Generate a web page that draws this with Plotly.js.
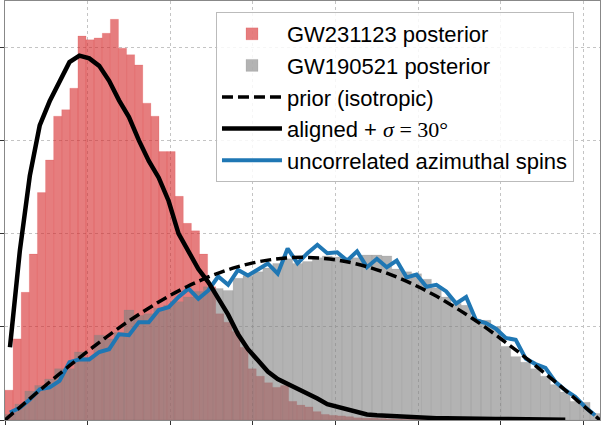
<!DOCTYPE html>
<html>
<head>
<meta charset="utf-8">
<script src="https://cdn.plot.ly/plotly-3.0.1.min.js"></script>
<style>
  html, body { margin: 0; padding: 0; background: #fff; }
  #myDiv { width: 601px; height: 425px; }
</style>
</head>
<body>
<div id="myDiv"></div>
<script>
// densities per degree, in units of 1e-3

// GW231123 posterior histogram (60 bins, 2.452 deg wide)
let redBinWidth = 2.452
let redDensity = [1.6, 4.35, 6.85, 8.9, 12.2, 13.95, 16.3, 16.65, 17.8, 20.6,
  20.4, 20.5, 20.75, 21.5, 19.95, 19.6, 19.05, 17.0, 16.3, 14.4,
  14.4, 12.0, 10.55, 10.15, 8.9, 7.15, 5.7, 5.25, 4.75, 3.9,
  2.75, 2.35, 2.0, 1.75, 1.85, 1.0, 0.8, 0.7, 0.45, 0.3,
  0.25, 0.22, 0.18, 0.12, 0.1, 0.1, 0.08, 0.06, 0.05, 0.04,
  0.03, 0.025, 0.02, 0.015, 0.015, 0.01, 0.01, 0.005, 0.005, 0.005]

// GW190521 posterior histogram (60 bins, 3 deg wide)
let grayBinWidth = 3
let grayDensity = [0.3, 0.85, 1.55, 1.85, 2.2, 2.75, 2.75, 3.65, 3.35, 4.55,
  4.35, 4.7, 5.9, 5.6, 5.7, 6.0, 6.15, 6.35, 6.6, 6.9,
  7.15, 7.05, 6.95, 7.6, 7.75, 7.95, 8.15, 8.4, 8.65, 8.4,
  8.5, 8.7, 8.8, 8.75, 8.7, 8.7, 8.85, 8.85, 8.8, 8.1,
  7.95, 7.85, 7.55, 7.1, 6.6, 6.25, 6.15, 5.4, 5.35, 5.0,
  3.95, 3.4, 3.1, 2.75, 2.35, 1.9, 1.5, 1.0, 0.95, 0.35]

// isotropic prior, every 5 deg
let priorStep = 5
let priorDensity = [0, 0.76, 1.52, 2.26, 2.98, 3.69, 4.36, 5.01, 5.61, 6.17,
  6.69, 7.15, 7.56, 7.91, 8.20, 8.43, 8.59, 8.69, 8.73, 8.69,
  8.59, 8.43, 8.20, 7.91, 7.56, 7.15, 6.69, 6.17, 5.61, 5.01,
  4.36, 3.69, 2.98, 2.26, 1.52, 0.76, 0]

// aligned + sigma = 30 deg (3 deg bins, centres)
let alignedDensity = [3.9, 9.1, 13.1, 15.8, 17.1, 18.15, 19.2, 19.55, 19.4, 19.0,
  18.2, 17.15, 16.25, 15.0, 13.9, 13.0, 11.75, 10.0, 9.0, 8.1,
  7.4, 6.5, 5.65, 4.6, 3.8, 3.2, 2.6, 2.2, 1.95, 1.65,
  1.4, 1.15, 0.85, 0.7, 0.55, 0.4, 0.3, 0.25, 0.22, 0.2,
  0.15, 0.12, 0.1, 0.1, 0.1, 0.08, 0.08, 0.05, 0.05, 0.05,
  0.05, 0.04, 0.03, 0.025, 0.02, 0.015, 0.01]

// uncorrelated azimuthal spins (3 deg bins, centres)
let uncorrDensity = [0.4, 0.65, 1.1, 1.65, 1.75, 2.1, 3.1, 3.25, 3.25, 3.65,
  3.8, 4.6, 4.55, 5.25, 5.25, 5.9, 6.05, 6.6, 7.05, 6.5,
  6.95, 7.7, 7.25, 8.05, 7.75, 8.05, 8.4, 7.85, 9.2, 8.4,
  8.95, 9.4, 8.95, 9.0, 8.55, 9.05, 8.2, 8.65, 8.2, 8.55,
  7.65, 7.8, 7.15, 7.25, 6.9, 6.25, 6.6, 5.35, 5.2, 4.9,
  4.4, 4.3, 3.3, 3.0, 2.8, 2.05, 1.6, 1.25, 0.7, 0.25]

let labels = ['GW231123 posterior', 'GW190521 posterior', 'prior (isotropic)',
  'aligned + <span style="font-family:\'Liberation Serif\'"><i>σ</i> = 30°</span>',
  'uncorrelated azimuthal spins']

// bin centres
let redX = redDensity.map((cur, i) => (i + 0.5) * redBinWidth)
let grayX = grayDensity.map((cur, i) => (i + 0.5) * grayBinWidth)
let priorX = priorDensity.map((cur, i) => i * priorStep)
let alignedX = alignedDensity.map((cur, i) => (i + 0.5) * grayBinWidth)
let uncorrX = uncorrDensity.map((cur, i) => (i + 0.5) * grayBinWidth)

var red = {
  x: redX, y: redDensity, type: 'bar', width: redBinWidth,
  name: labels[0], legendrank: 1,
  marker: {color: 'rgba(214,39,40,0.6)', line: {color: 'rgba(214,39,40,0.25)', width: 0.6}}
};

var gray = {
  x: grayX, y: grayDensity, type: 'bar', width: grayBinWidth,
  name: labels[1], legendrank: 2,
  marker: {color: 'rgba(128,128,128,0.6)', line: {color: 'rgba(128,128,128,0.25)', width: 0.6}}
};

var uncorr = {
  x: uncorrX, y: uncorrDensity, mode: 'lines', type: 'scatter',
  name: labels[4], legendrank: 5,
  line: {color: '#1f77b4', width: 4}
};

var prior = {
  x: priorX, y: priorDensity, mode: 'lines', type: 'scatter',
  name: labels[2], legendrank: 3,
  line: {color: 'black', width: 3.5, dash: '11px,5px', shape: 'spline'}
};

var aligned = {
  x: alignedX, y: alignedDensity, mode: 'lines', type: 'scatter',
  name: labels[3], legendrank: 4,
  line: {color: 'black', width: 4.5}
};

var axisStyle = {
  showticklabels: false, ticks: 'outside', ticklen: 5, tickwidth: 1, tickcolor: '#333',
  showline: true, linecolor: '#888', linewidth: 1, mirror: true,
  showgrid: true, gridcolor: '#c4c4c4', griddash: 'dot', gridwidth: 1,
  zeroline: false
}

var layout = {
  width: 601, height: 425,
  margin: {l: 5, r: 1, t: 1, b: 5},
  paper_bgcolor: 'white', plot_bgcolor: 'white',
  barmode: 'overlay', bargap: 0,
  showlegend: true,
  legend: {
    x: 0.3546, y: 0.9737, xanchor: 'left', yanchor: 'top',
    bgcolor: 'rgba(255,255,255,0.85)', bordercolor: '#bbbbbb', borderwidth: 1,
    font: {family: 'Liberation Sans, Arial, sans-serif', size: 22, color: 'black'},
    traceorder: 'normal', itemwidth: 60
  },
  xaxis: Object.assign({range: [0, 180], tick0: 0, dtick: 25}, axisStyle),
  yaxis: Object.assign({range: [0, 22.48], tick0: 0, dtick: 5}, axisStyle)
};

Plotly.newPlot('myDiv', [red, gray, uncorr, prior, aligned], layout, {displayModeBar: false, staticPlot: true});
</script>
</body>
</html>
